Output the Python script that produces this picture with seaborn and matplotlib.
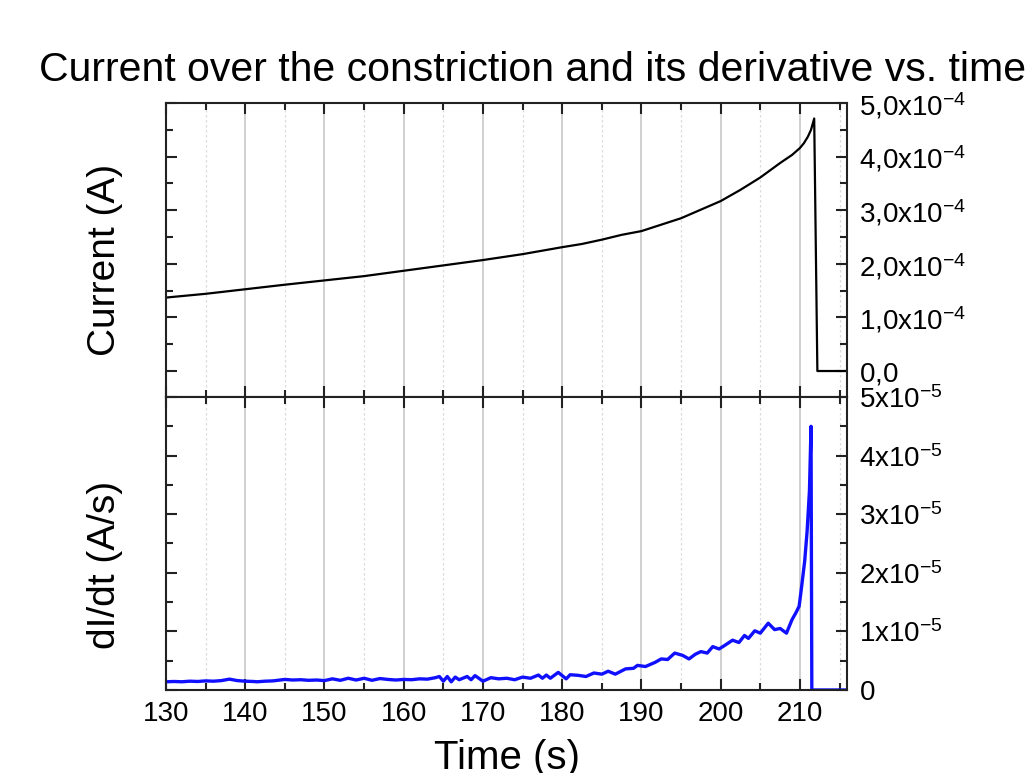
import numpy as np
import pandas as pd
import matplotlib
matplotlib.use("Agg")
import matplotlib.pyplot as plt
from matplotlib.ticker import MultipleLocator, FixedLocator, FixedFormatter
import seaborn as sns

# ---------------- data ----------------
time_current = [130, 135, 140, 145, 150, 155, 160, 165, 170, 175, 180, 182.5,
                185, 187.5, 190, 192.5, 195, 197.5, 200, 202.5, 205, 207.5,
                209, 210, 210.5, 211, 211.4, 211.8, 212.2, 216]
current_e4 = [1.37, 1.44, 1.525, 1.61, 1.69, 1.77, 1.87, 1.97, 2.07, 2.18,
              2.31, 2.37, 2.45, 2.54, 2.61, 2.73, 2.85, 3.01, 3.17, 3.38,
              3.61, 3.88, 4.03, 4.16, 4.25, 4.37, 4.50, 4.71, 0.0, 0.0]

time_deriv = [130, 131, 132, 133, 134, 135, 136, 137, 138, 139, 140, 141,
              141.5, 142.5, 143.5, 145, 146, 147, 148, 149, 150, 151, 152,
              153, 154, 155, 156, 157, 158, 159, 160, 161, 162, 163, 164,
              164.5, 165, 165.5, 166, 166.5, 167, 168, 168.5, 169, 170, 171,
              172, 173, 174, 175, 176, 177, 177.5, 178, 178.5, 179.5, 180,
              180.5, 181, 182, 183, 184, 185, 185.8, 186.7, 188, 189, 189.5,
              190.5, 191.7, 192.5, 193.3, 194.2, 195.2, 196, 196.8, 197.5,
              198.3, 199, 199.8, 200.5, 201.5, 202.3, 203, 203.5, 204.3, 205,
              206, 206.8, 207.5, 208.3, 209, 209.5, 209.9, 210.2, 210.6,
              210.9, 211.2, 211.4, 211.5, 216]
deriv_e6 = [1.4, 1.45, 1.4, 1.5, 1.45, 1.55, 1.5, 1.6, 1.85, 1.6, 1.5, 1.45,
            1.4, 1.5, 1.55, 1.8, 1.7, 1.75, 1.65, 1.7, 1.6, 1.9, 1.65,
            2.0, 1.7, 2.0, 1.65, 1.95, 1.8, 1.7, 1.8, 1.75, 1.9, 1.85, 2.1,
            2.3, 1.5, 2.3, 1.4, 2.2, 1.75, 2.3, 1.75, 2.45, 1.5, 2.1,
            1.9, 2.0, 1.75, 2.2, 2.0, 2.55, 2.0, 2.55, 2.0, 3.0, 2.45,
            1.9, 2.6, 2.5, 2.3, 2.9, 2.7, 3.2, 2.7, 3.6, 3.7, 4.2,
            4.0, 4.7, 5.3, 5.2, 6.3, 5.9, 5.3, 6.1, 6.55,
            6.3, 7.4, 7.0, 7.6, 8.5, 8.1, 9.3, 8.8, 10.1, 9.7,
            11.4, 10.3, 10.5, 9.7, 12.0, 13.2, 14.3, 17.5, 22.0,
            27.0, 34.0, 45.0, 0.0, 0.0]

x_ticks = [130, 140, 150, 160, 170, 180, 190, 200, 210]
top_yticks = [0, 1e-4, 2e-4, 3e-4, 4e-4, 5e-4]
top_ylabels = [r"$\mathregular{0{,}0}$", r"$\mathregular{1{,}0x10^{-4}}$",
               r"$\mathregular{2{,}0x10^{-4}}$", r"$\mathregular{3{,}0x10^{-4}}$",
               r"$\mathregular{4{,}0x10^{-4}}$", r"$\mathregular{5{,}0x10^{-4}}$"]
bot_yticks = [0, 1e-5, 2e-5, 3e-5, 4e-5, 5e-5]
bot_ylabels = [r"$\mathregular{0}$", r"$\mathregular{1x10^{-5}}$",
               r"$\mathregular{2x10^{-5}}$", r"$\mathregular{3x10^{-5}}$",
               r"$\mathregular{4x10^{-5}}$", r"$\mathregular{5x10^{-5}}$"]

df_i = pd.DataFrame({"t": time_current, "I": np.array(current_e4) * 1e-4})
df_d = pd.DataFrame({"t": time_deriv, "dI": np.array(deriv_e6) * 1e-6})

# ---------------- style ----------------
sns.set_theme(style="white")
plt.rcParams["font.family"] = ["Liberation Sans", "DejaVu Sans"]
plt.rcParams["mathtext.fontset"] = "custom"
plt.rcParams["mathtext.rm"] = "Liberation Sans"
plt.rcParams["mathtext.it"] = "Liberation Sans:italic"
plt.rcParams["mathtext.bf"] = "Liberation Sans:bold"
plt.rcParams["text.color"] = "black"
plt.rcParams["axes.labelcolor"] = "black"
plt.rcParams["xtick.color"] = "black"
plt.rcParams["ytick.color"] = "black"

fig = plt.figure(figsize=(10.31, 7.73), dpi=100)
fig.patch.set_facecolor("white")

L, R = 0.161, 0.822
B, M, T = 0.1074, 0.4864, 0.8668
ax_top = fig.add_axes([L, M, R - L, T - M])
ax_bot = fig.add_axes([L, B, R - L, M - B], sharex=ax_top)

sns.lineplot(data=df_i, x="t", y="I", ax=ax_top, color="black",
             linewidth=1.6, estimator=None, sort=False)
sns.lineplot(data=df_d, x="t", y="dI", ax=ax_bot, color="#1010ff",
             linewidth=2.4, estimator=None, sort=False)

for ax in (ax_top, ax_bot):
    ax.set_facecolor("white")
    ax.set_xlim(130, 216)
    ax.xaxis.set_major_locator(FixedLocator(x_ticks))
    ax.xaxis.set_minor_locator(MultipleLocator(5))
    ax.grid(False)
    ax.grid(True, which="major", axis="x", color="#c4c4c4", linewidth=1.1,
            linestyle="-")
    ax.grid(True, which="minor", axis="x", color="#dcdcdc", linewidth=0.9,
            linestyle=(0, (2, 2)))
    ax.set_axisbelow(True)
    for s in ax.spines.values():
        s.set_visible(True)
        s.set_color("#222222")
        s.set_linewidth(1.5)
    ax.tick_params(which="both", direction="in", top=True, bottom=True,
                   left=True, right=True, labelleft=False, labelright=True,
                   color="#222222", labelcolor="black", width=1.5,
                   labelsize=20, pad=8)
    ax.tick_params(which="major", length=8)
    ax.tick_params(which="minor", length=5)
    ax.set_ylabel("")
    ax.set_xlabel("")

ax_top.set_ylim(-0.485e-4, 5e-4)
ax_top.yaxis.set_major_locator(FixedLocator(top_yticks))
ax_top.yaxis.set_major_formatter(FixedFormatter(top_ylabels))
ax_top.yaxis.set_minor_locator(MultipleLocator(0.5e-4))
ax_top.tick_params(axis="x", labelbottom=False)

ax_bot.set_ylim(0, 5e-5)
ax_bot.yaxis.set_major_locator(FixedLocator(bot_yticks))
ax_bot.yaxis.set_major_formatter(FixedFormatter(bot_ylabels))
ax_bot.yaxis.set_minor_locator(MultipleLocator(0.5e-5))

ax_top.set_ylabel("Current (A)", fontsize=28, va="center", color="black")
ax_top.yaxis.set_label_coords(-0.0896, 0.466)
ax_bot.set_ylabel("dI/dt (A/s)", fontsize=28, va="center", color="black")
ax_bot.yaxis.set_label_coords(-0.0896, 0.427)
ax_bot.set_xlabel("Time (s)", fontsize=29, color="black")
ax_bot.xaxis.set_label_coords(0.5, -0.168)

fig.text(533 / 1031, 1 - 70 / 773,
         "Current over the constriction and its derivative vs. time",
         fontsize=29.5, ha="center", va="center", color="black")

fig.savefig("out.png", dpi=100, facecolor="white")
